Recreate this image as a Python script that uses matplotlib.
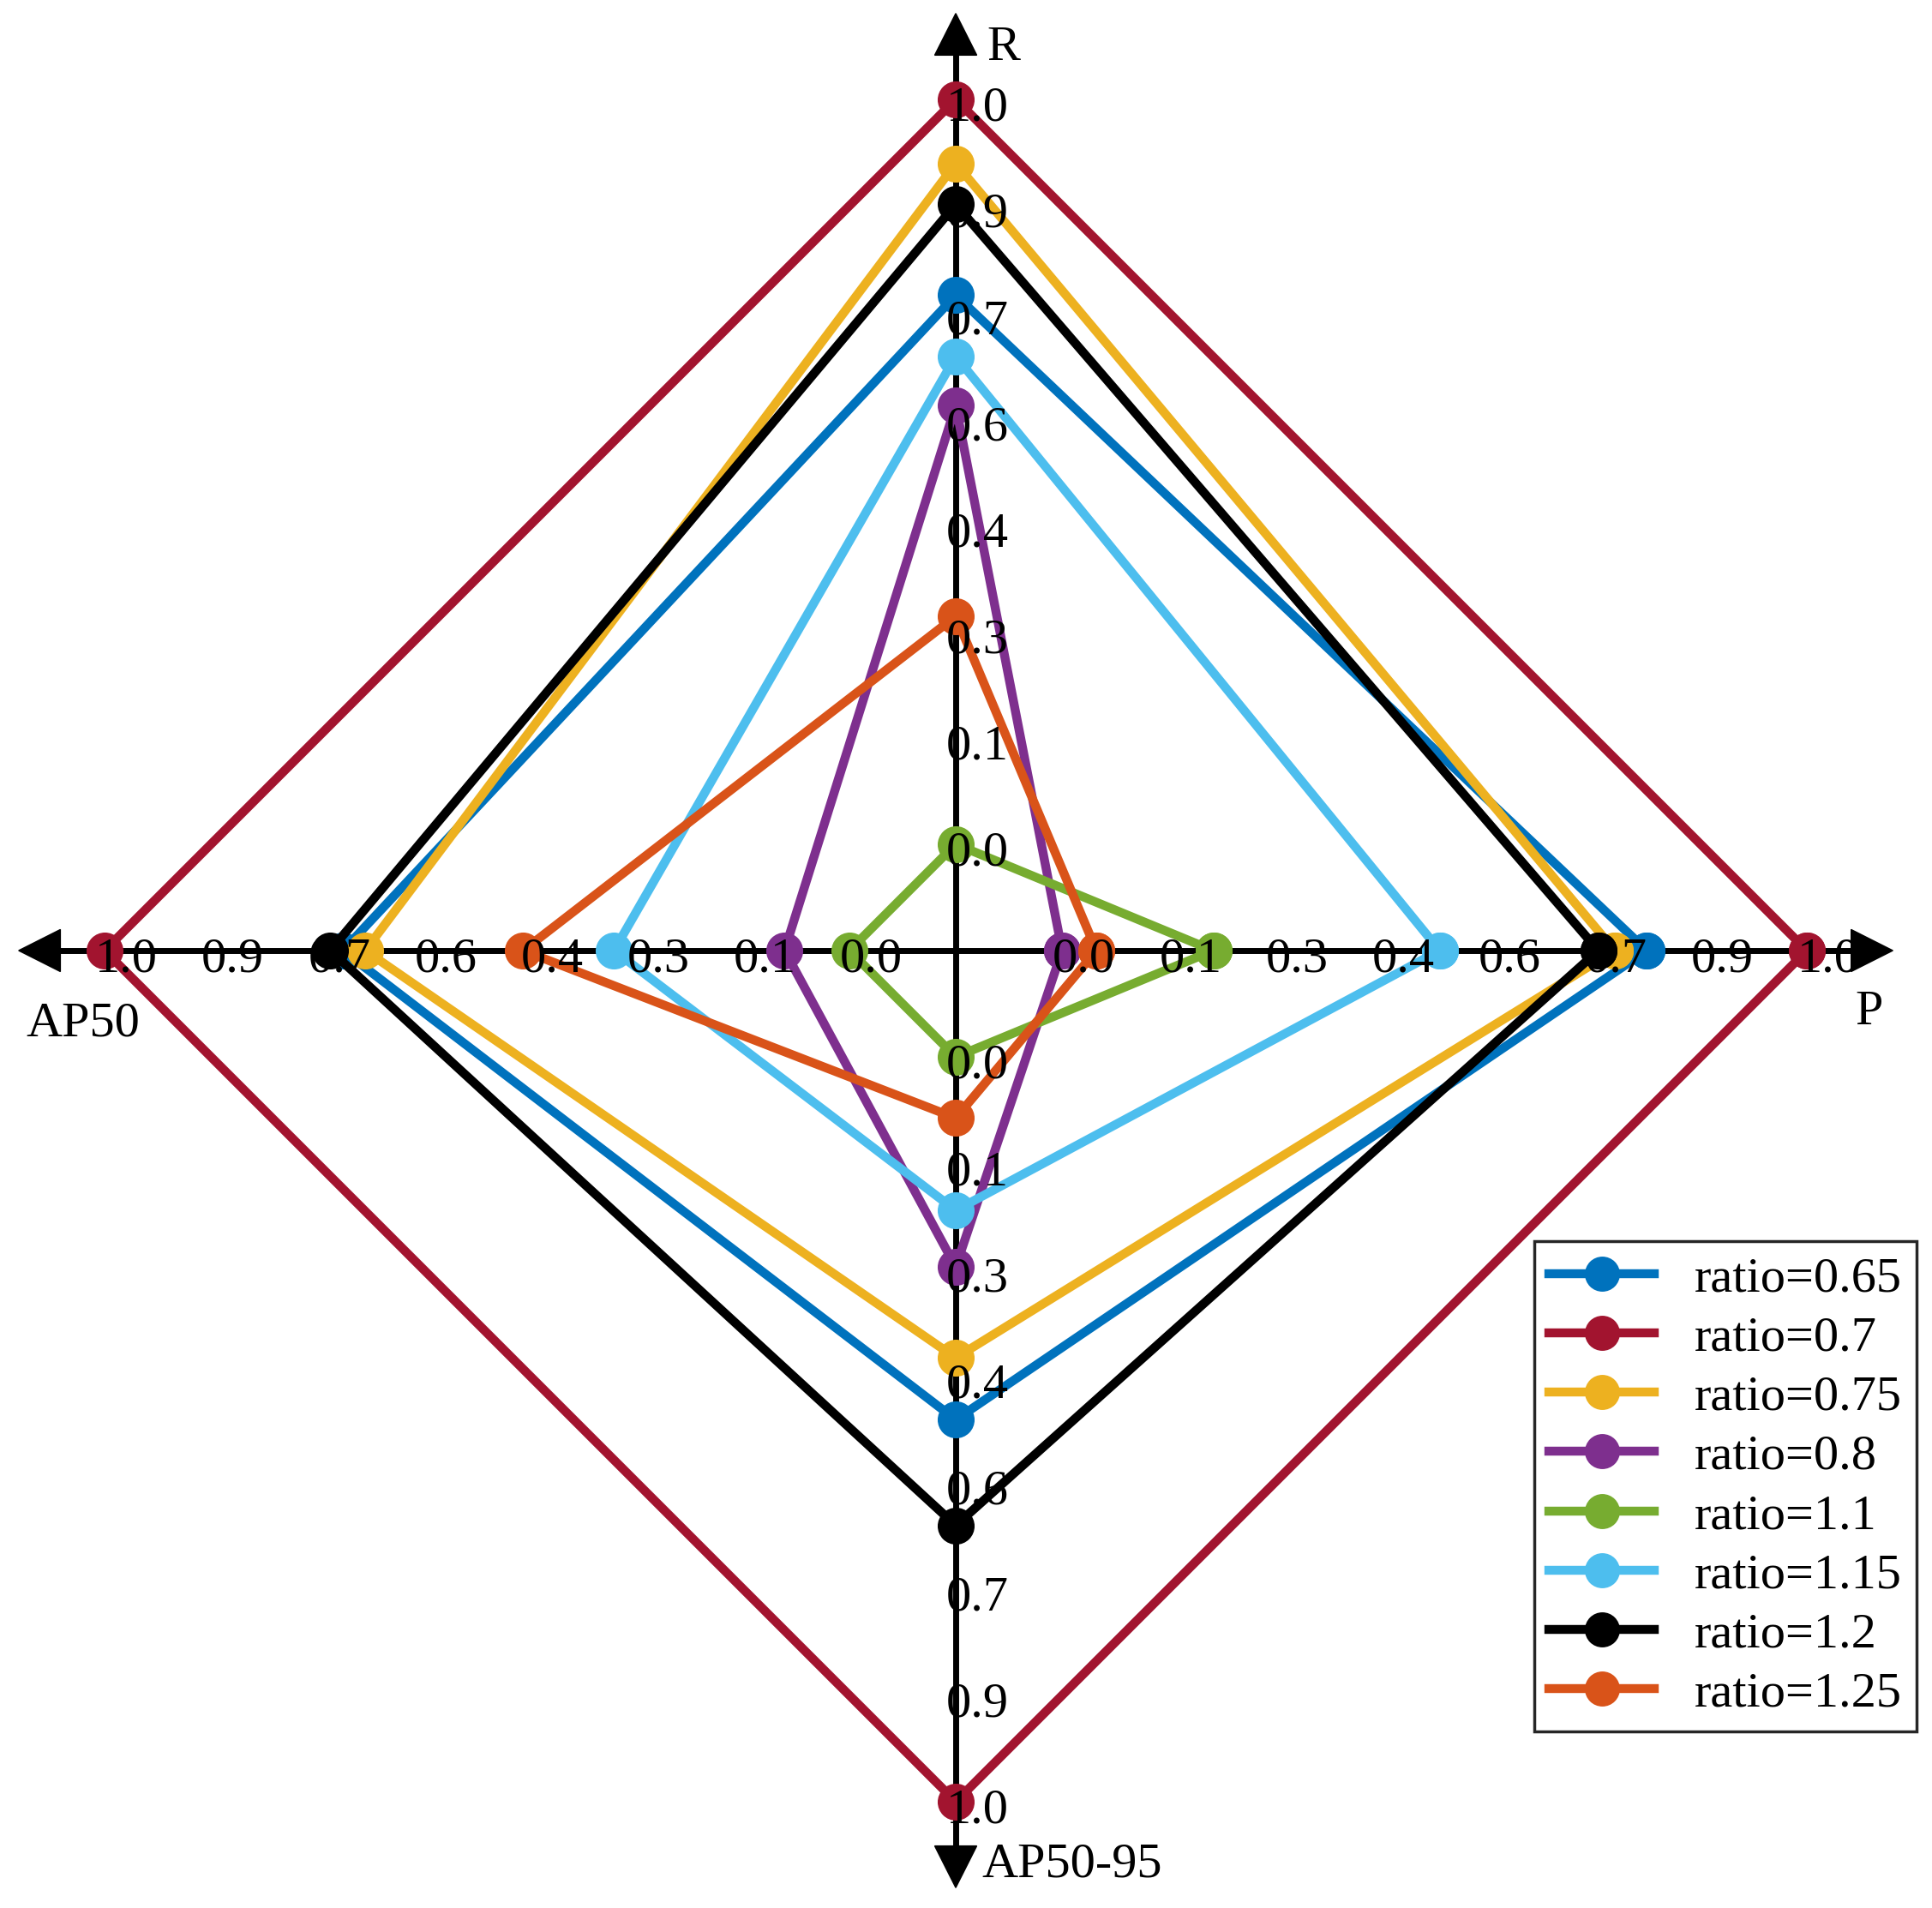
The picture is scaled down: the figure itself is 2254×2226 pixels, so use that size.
import numpy as np
import matplotlib
matplotlib.use('Agg')
import matplotlib.pyplot as plt
from matplotlib.patches import Polygon

axes_names = ['P', 'R', 'AP50', 'AP50-95']
tick_labels = ['0.0', '0.1', '0.3', '0.4', '0.6', '0.7', '0.9', '1.0']
series_names = ['ratio=0.65', 'ratio=0.7', 'ratio=0.75', 'ratio=0.8',
                'ratio=1.1', 'ratio=1.15', 'ratio=1.2', 'ratio=1.25']
colors = ['#0072BD', '#A2142F', '#EDB120', '#7E2F8E',
          '#77AC30', '#4DBEEE', '#000000', '#D95319']

# normalised values per axis (P, R, AP50, AP50-95)
p_vals = [0.785, 1.0, 0.742, 0.0, 0.203, 0.507, 0.72, 0.046]
r_vals = [0.737, 1.0, 0.914, 0.589, 0.0, 0.655, 0.859, 0.306]
ap50_vals = [0.68, 1.0, 0.65, 0.087, 0.0, 0.316, 0.697, 0.438]
ap5095_vals = [0.487, 1.0, 0.404, 0.282, 0.0, 0.206, 0.629, 0.082]

plt.rcParams['font.family'] = ['Liberation Serif', 'DejaVu Serif']

fig = plt.figure(figsize=(22.54, 22.26), dpi=100)
ax = fig.add_axes([0, 0, 1, 1])
ax.set_xlim(-1.1229, 1.1470)
ax.set_ylim(-1.1249, 1.1168)
ax.axis('off')

angles = np.deg2rad([0, 90, 180, 270])
n_ring = len(tick_labels)


def radius(v):
    # axes offset of one ring, values 0..1 over the remaining rings
    return (1 + (n_ring - 1) * np.asarray(v)) / n_ring


# axis lines with arrow heads
arrow_base, arrow_tip, arrow_half = 1.052, 1.101, 0.0247
ax.plot([-arrow_base, arrow_base], [0, 0], color='k', lw=5, zorder=1, solid_capstyle='butt')
ax.plot([0, 0], [-arrow_base, arrow_base], color='k', lw=5, zorder=1, solid_capstyle='butt')
for a in angles:
    c, s = np.cos(a), np.sin(a)
    pts = [(arrow_tip * c, arrow_tip * s),
           (arrow_base * c - arrow_half * s, arrow_base * s + arrow_half * c),
           (arrow_base * c + arrow_half * s, arrow_base * s - arrow_half * c)]
    ax.add_patch(Polygon(pts, closed=True, color='k', zorder=1))

# data
for i in range(len(series_names)):
    vals = [p_vals[i], r_vals[i], ap50_vals[i], ap5095_vals[i]]
    rr = radius(vals)
    xs = np.append(rr * np.cos(angles), rr[0] * np.cos(angles[0]))
    ys = np.append(rr * np.sin(angles), rr[0] * np.sin(angles[0]))
    ax.plot(xs, ys, color=colors[i], lw=7.5, marker='o', ms=31, mew=0,
            label=series_names[i], zorder=2 + i)

# tick labels
for a in angles:
    for k, lab in enumerate(tick_labels):
        r = (k + 1) / n_ring
        ax.text(r * np.cos(a) - 0.011, r * np.sin(a) - 0.025, lab, fontsize=42,
                ha='left', va='baseline', zorder=20)

# axis labels
ax.text(0.037, 1.060, axes_names[1], fontsize=42, ha='left', va='center')
ax.text(1.073, -0.073, axes_names[0], fontsize=42, ha='center', va='center')
ax.text(-1.025, -0.086, axes_names[2], fontsize=42, ha='center', va='center')
ax.text(0.031, -1.074, axes_names[3], fontsize=42, ha='left', va='center')

leg = ax.legend(loc='upper left', bbox_to_anchor=(0.7941, 0.3495),
                bbox_transform=fig.transFigure, fontsize=42, fancybox=False,
                framealpha=1, edgecolor='#262626', borderaxespad=0,
                borderpad=0.3, labelspacing=0.28, handlelength=2.1,
                handletextpad=0.8, markerscale=0.95)
leg.get_frame().set_linewidth(2.5)
leg.set_zorder(30)

fig.savefig('out.png', dpi=100)
